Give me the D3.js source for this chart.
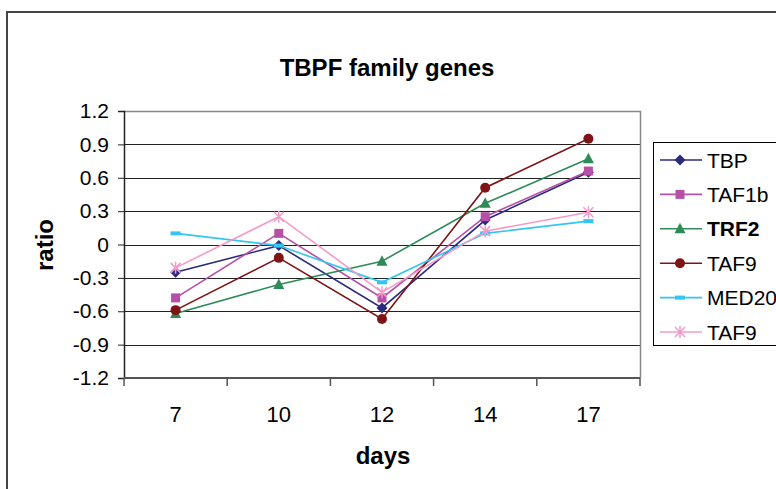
<!DOCTYPE html>
<html>
<head>
<meta charset="utf-8">
<script src="https://cdn.jsdelivr.net/npm/d3@7"></script>
<style>
  body { margin: 0; background: #fff; }
  svg { display: block; font-family: "Liberation Sans", Arial, sans-serif; }
</style>
</head>
<body>
<div id="chart"></div>
<script>
// TBPF family genes - line chart

const width = 776,
    height = 489,
    margin = ({ top: 111, right: 136, bottom: 111, left: 124 });

const days = ["7", "10", "12", "14", "17"];
const yTicks = [-1.2, -0.9, -0.6, -0.3, 0, 0.3, 0.6, 0.9, 1.2];
const seriesNames = ["TBP", "TAF1b", "TRF2", "TAF9", "MED20", "TAF9"];

const tbp   = [-0.25, -0.01, -0.57, 0.22, 0.65];
const taf1b = [-0.48, 0.10, -0.48, 0.25, 0.66];
const trf2  = [-0.62, -0.36, -0.15, 0.37, 0.77];
const taf9  = [-0.59, -0.12, -0.67, 0.51, 0.95];
const med20 = [0.10, -0.01, -0.34, 0.10, 0.21];
const taf9b = [-0.21, 0.25, -0.43, 0.12, 0.29];

const colors = ["#2b2b7e", "#b64fa6", "#2e8b57", "#7f1416", "#33c6f2", "#f39bc9"];
const shapes = ["diamond", "square", "triangle", "circle", "dash", "star"];

const series = [tbp, taf1b, trf2, taf9, med20, taf9b].map((vals, i) => ({
    name: seriesNames[i],
    color: colors[i],
    shape: shapes[i],
    bold: i === 2,
    values: vals
}));

const svg = d3.select("#chart")
    .append("svg")
    .attr("width", width)
    .attr("height", height);

// outer chart frame (runs off the right and bottom edges)
svg.append("rect")
    .attr("x", 7).attr("y", 12)
    .attr("width", 800).attr("height", 500)
    .attr("fill", "none")
    .attr("stroke", "#444")
    .attr("stroke-width", 2);

const x = d3.scaleBand()
    .domain(days)
    .range([margin.left, width - margin.right]);

const y = d3.scaleLinear()
    .domain([-1.2, 1.2])
    .range([height - margin.bottom, margin.top]);

const x0 = margin.left, x1 = width - margin.right;

// gridlines
svg.append("g")
    .selectAll("line")
    .data(yTicks.filter(d => d > -1.2 && d < 1.2))
    .join("line")
    .attr("x1", x0).attr("x2", x1)
    .attr("y1", d => Math.round(y(d)) + 0.5)
    .attr("y2", d => Math.round(y(d)) + 0.5)
    .attr("stroke", "#222")
    .attr("stroke-width", 1);

// plot area border (top & right)
svg.append("path")
    .attr("d", `M${x0},${Math.round(y(1.2)) + 0.5}H${x1 + 0.5}V${Math.round(y(-1.2))}`)
    .attr("fill", "none")
    .attr("stroke", "#888")
    .attr("stroke-width", 1.5);

// y axis
const yAxis = svg.append("g")
    .attr("transform", `translate(${x0},0)`)
    .call(d3.axisLeft(y).tickValues(yTicks).tickSize(6).tickPadding(9)
        .tickFormat(d => d === 0 ? "0" : d.toFixed(1)));
yAxis.select(".domain").attr("stroke", "#222").attr("stroke-width", 1.5);
yAxis.selectAll(".tick line").attr("stroke", "#222");
yAxis.selectAll("text")
    .attr("font-size", 21)
    .attr("font-family", "Liberation Sans, Arial, sans-serif")
    .attr("fill", "#000");

// x axis with ticks between categories
const xAxisY = Math.round(y(-1.2));
svg.append("line")
    .attr("x1", x0).attr("x2", x1)
    .attr("y1", xAxisY).attr("y2", xAxisY)
    .attr("stroke", "#555").attr("stroke-width", 2);

svg.append("g")
    .selectAll("line")
    .data(d3.range(days.length + 1))
    .join("line")
    .attr("x1", i => x0 + i * x.step())
    .attr("x2", i => x0 + i * x.step())
    .attr("y1", xAxisY)
    .attr("y2", xAxisY + 8)
    .attr("stroke", "#555")
    .attr("stroke-width", 1.5);

svg.append("g")
    .selectAll("text")
    .data(days)
    .join("text")
    .attr("x", d => x(d) + x.bandwidth() / 2)
    .attr("y", xAxisY + 44)
    .attr("text-anchor", "middle")
    .attr("font-size", 22)
    .text(d => d);

// titles
svg.append("text")
    .attr("x", 387).attr("y", 76)
    .attr("text-anchor", "middle")
    .attr("font-size", 24)
    .attr("font-weight", "bold")
    .text("TBPF family genes");

svg.append("text")
    .attr("x", 383).attr("y", 464)
    .attr("text-anchor", "middle")
    .attr("font-size", 24)
    .attr("font-weight", "bold")
    .text("days");

svg.append("text")
    .attr("transform", `translate(53,245) rotate(-90)`)
    .attr("text-anchor", "middle")
    .attr("font-size", 24)
    .attr("font-weight", "bold")
    .text("ratio");

// marker drawing
function drawMarker(g, shape, color) {
    if (shape === "diamond") {
        g.append("path").attr("d", "M0,-5.5L5.5,0L0,5.5L-5.5,0Z").attr("fill", color);
    } else if (shape === "square") {
        g.append("rect").attr("x", -4.5).attr("y", -4.5).attr("width", 9).attr("height", 9).attr("fill", color);
    } else if (shape === "triangle") {
        g.append("path").attr("d", "M0,-6L5.5,4.5L-5.5,4.5Z").attr("fill", color);
    } else if (shape === "circle") {
        g.append("circle").attr("r", 5).attr("fill", color);
    } else if (shape === "dash") {
        g.append("rect").attr("x", -5).attr("y", -2).attr("width", 10).attr("height", 4).attr("fill", color);
    } else if (shape === "star") {
        g.append("path")
            .attr("d", "M-5,-5L5,5M-5,5L5,-5M0,-6V6")
            .attr("stroke", color).attr("stroke-width", 1.5).attr("fill", "none");
    }
}

const line = d3.line()
    .x((d, i) => x(days[i]) + x.bandwidth() / 2)
    .y(d => y(d));

const seriesG = svg.append("g");
series.forEach(s => {
    seriesG.append("path")
        .datum(s.values)
        .attr("d", line)
        .attr("fill", "none")
        .attr("stroke", s.color)
        .attr("stroke-width", 1.6);
});
series.forEach(s => {
    s.values.forEach((v, i) => {
        const g = seriesG.append("g")
            .attr("transform", `translate(${x(days[i]) + x.bandwidth() / 2},${y(v)})`);
        drawMarker(g, s.shape, s.color);
    });
});

// legend
svg.append("rect")
    .attr("x", 653.5).attr("y", 142.5)
    .attr("width", 200).attr("height", 203)
    .attr("fill", "#fff")
    .attr("stroke", "#000")
    .attr("stroke-width", 1);

const legend = svg.append("g")
    .selectAll("g")
    .data(series)
    .join("g")
    .attr("transform", (d, i) => `translate(680,${160 + i * 34.4})`);

legend.append("line")
    .attr("x1", -20).attr("x2", 22)
    .attr("stroke", d => d.color)
    .attr("stroke-width", 1.6);

legend.each(function (d) { drawMarker(d3.select(this), d.shape, d.color); });

legend.append("text")
    .attr("x", 27)
    .attr("dy", "0.36em")
    .attr("font-size", 21)
    .attr("font-weight", d => d.bold ? "bold" : "normal")
    .text(d => d.name);
</script>
</body>
</html>
